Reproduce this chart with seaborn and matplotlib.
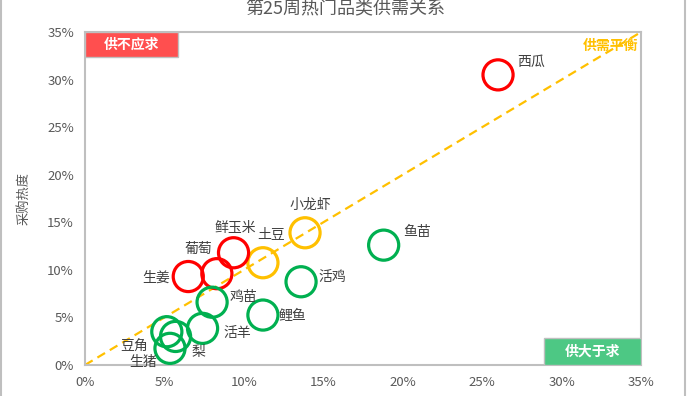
import matplotlib.pyplot as plt
import matplotlib.patches as mpatches
from matplotlib.lines import Line2D
from matplotlib.ticker import FuncFormatter
import pandas as pd
import seaborn as sns

# 第25周热门品类：供给指数(x) vs 采购热度(y)
items = ["西瓜", "鱼苗", "小龙虾", "土豆", "鲜玉米", "葡萄", "生姜",
         "活鸡", "鸡苗", "鲤鱼", "活羊", "豆角", "梨", "生猪"]
supply = [26.0, 18.8, 13.85, 11.2, 9.35, 8.3, 6.5,
          13.6, 8.0, 11.2, 7.4, 5.15, 5.7, 5.35]
heat = [30.5, 12.6, 13.9, 10.75, 11.8, 9.6, 9.3,
        8.75, 6.6, 5.25, 3.85, 3.5, 3.0, 1.75]
status = ["供不应求", "供大于求", "平衡", "平衡", "供不应求", "供不应求", "供不应求",
          "供大于求", "供大于求", "供大于求", "供大于求", "供大于求", "供大于求", "供大于求"]

palette = {"供不应求": "#FF0000", "平衡": "#FFC000", "供大于求": "#00B050"}

# label offsets in pixels (dx, dy, ha)
label_pos = {
    "西瓜": (19, 13, "left"), "鱼苗": (20, 13, "left"), "小龙虾": (5, 28, "center"),
    "土豆": (8, 29, "center"), "鲜玉米": (2, 25, "center"), "葡萄": (-18, 25, "center"),
    "生姜": (-18, -1, "right"), "活鸡": (17, 5, "left"), "鸡苗": (17, 5, "left"),
    "鲤鱼": (16, -1, "left"), "活羊": (21, -5, "left"), "豆角": (-19, -15, "right"),
    "梨": (16, -16, "left"), "生猪": (-13, -14, "right"),
}

df = pd.DataFrame({"item": items, "supply": supply, "heat": heat, "status": status})

sns.set_theme(style="white")
plt.rcParams["font.family"] = ["Noto Sans CJK SC", "DejaVu Sans"]

fig = plt.figure(figsize=(6.9, 3.96), dpi=100)
ax = fig.add_axes([0.1232, 0.0783, 0.8058, 0.8407])

# balance line
ax.plot([0, 35], [0, 35], color="#FFC000", lw=1.6, ls=(0, (4, 2.5)), zorder=1)

sns.scatterplot(data=df, x="supply", y="heat", hue="status", palette=palette,
                s=470, linewidth=2.3, legend=False, ax=ax, zorder=3)
pts = ax.collections[-1]
pts.set_edgecolors(pts.get_facecolors())
pts.set_facecolors("none")

for name, x, y in zip(items, supply, heat):
    dx, dy, ha = label_pos[name]
    ax.annotate(name, (x, y), xytext=(dx, dy), textcoords="offset pixels",
                ha=ha, va="center", fontsize=10, color="#404040")

ax.set_xlim(0, 35)
ax.set_ylim(0, 35)
ax.set_xticks(range(0, 36, 5))
ax.set_yticks(range(0, 36, 5))
pct = FuncFormatter(lambda v, p: f"{v:.0f}%")
ax.xaxis.set_major_formatter(pct)
ax.yaxis.set_major_formatter(pct)
ax.tick_params(axis="both", labelsize=9.5, colors="#595959", length=0, pad=8)
ax.set_xlabel("")
ax.set_ylabel("采购热度", fontsize=9.5, color="#595959", labelpad=12)
for sp in ax.spines.values():
    sp.set_color("#BFBFBF")
    sp.set_linewidth(1.5)

# corner boxes
ax.add_patch(mpatches.Rectangle((0, 0.925), 0.167, 0.075, transform=ax.transAxes,
                                facecolor="#FF4F4F", edgecolor="#BFBFBF", lw=1, zorder=4))
ax.text(0.0835, 0.9625, "供不应求", transform=ax.transAxes, ha="center", va="center",
        fontsize=10, fontweight="bold", color="white", zorder=5)
ax.add_patch(mpatches.Rectangle((0.826, 0), 0.174, 0.081, transform=ax.transAxes,
                                facecolor="#4DC884", edgecolor="#BFBFBF", lw=1, zorder=4))
ax.text(0.913, 0.0405, "供大于求", transform=ax.transAxes, ha="center", va="center",
        fontsize=10, fontweight="bold", color="white", zorder=5)
ax.text(0.995, 0.958, "供需平衡", transform=ax.transAxes, ha="right", va="center",
        fontsize=10, fontweight="bold", color="#FFC000")

fig.text(0.5, 0.999, "第25周热门品类供需关系", ha="center", va="top",
         fontsize=13, color="#595959")

# outer chart border (left / right edges visible)
for xf in (0.002, 0.993):
    fig.add_artist(Line2D([xf, xf], [0, 1], transform=fig.transFigure,
                          color="#BFBFBF", lw=1.5))

fig.savefig("out.png", dpi=100)
